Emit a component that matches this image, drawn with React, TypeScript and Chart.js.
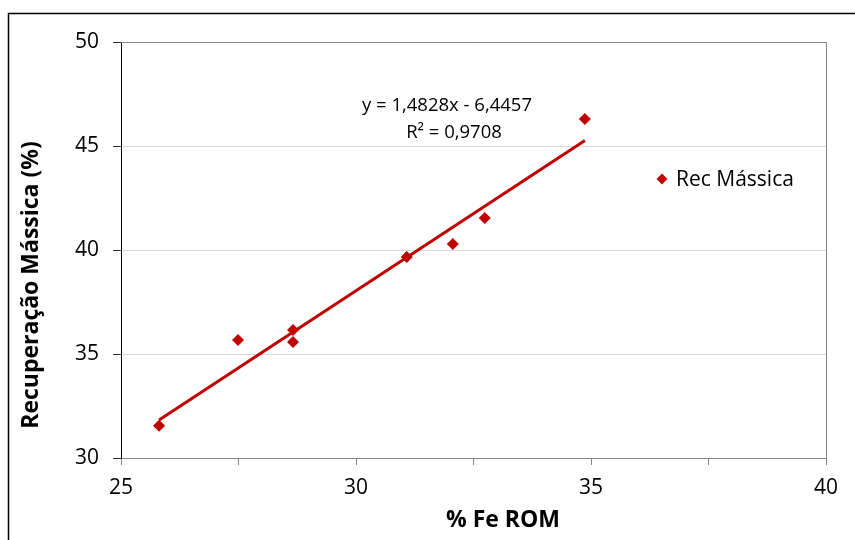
import React, { useEffect, useRef } from "react";
import { Chart, registerables } from "chart.js";

Chart.register(...registerables);

const feRom: number[] = [25.81, 27.49, 28.66, 28.66, 31.08, 32.06, 32.74, 34.87];
const recMassica: number[] = [31.55, 35.67, 36.15, 35.58, 39.66, 40.29, 41.54, 46.3];
const slope = 1.4828;
const intercept = -6.4457;
const seriesName = "Rec Mássica";
const equationText = "y = 1,4828x - 6,4457";
const r2Text = "R² = 0,9708";
const xTitle = "% Fe ROM";
const yTitle = "Recuperação Mássica (%)";
const xMin = 25, xMax = 40, xStep = 2.5;
const yMin = 30, yMax = 50, yStep = 5;

const RED = "#c00000";
const FONT = "'Open Sans', 'DejaVu Sans', sans-serif";

export default function App() {
  const ref = useRef<HTMLCanvasElement | null>(null);
  useEffect(() => {
    if (!ref.current) return;
    const pts = feRom.map((x, i) => ({ x, y: recMassica[i] }));
    const lo = Math.min(...feRom);
    const hi = Math.max(...feRom);
    const trend = [
      { x: lo, y: slope * lo + intercept },
      { x: hi, y: slope * hi + intercept },
    ];
    const deco = {
      id: "deco",
      afterDraw(chart: any) {
        const ctx = chart.ctx;
        const a = chart.chartArea;
        ctx.save();
        // plot area top/right border
        ctx.strokeStyle = "#868686";
        ctx.lineWidth = 1;
        ctx.beginPath();
        ctx.moveTo(a.left, Math.round(a.top) + 0.5);
        ctx.lineTo(Math.round(a.right) + 0.5, Math.round(a.top) + 0.5);
        ctx.lineTo(Math.round(a.right) + 0.5, a.bottom);
        ctx.stroke();
        // outer border
        ctx.strokeStyle = "#000";
        ctx.lineWidth = 1.5;
        ctx.beginPath();
        ctx.moveTo(8.5, 540);
        ctx.lineTo(8.5, 13.5);
        ctx.lineTo(855, 13.5);
        ctx.stroke();
        // equation
        ctx.fillStyle = "#000";
        ctx.font = `18.5px ${FONT}`;
        ctx.textAlign = "center";
        ctx.textBaseline = "middle";
        ctx.fillText(equationText, 447, 106);
        ctx.fillText(r2Text, 454, 133);
        // legend
        const lx = 662, ly = 179, r = 5.5;
        ctx.fillStyle = RED;
        ctx.beginPath();
        ctx.moveTo(lx, ly - r);
        ctx.lineTo(lx + r, ly);
        ctx.lineTo(lx, ly + r);
        ctx.lineTo(lx - r, ly);
        ctx.closePath();
        ctx.fill();
        ctx.fillStyle = "#000";
        ctx.font = `21px ${FONT}`;
        ctx.textAlign = "left";
        ctx.fillText(seriesName, 676, 180);
        // axis titles
        ctx.font = `bold 23px ${FONT}`;
        ctx.textAlign = "center";
        ctx.fillText(xTitle, 503, 520);
        ctx.save();
        ctx.translate(31, 285);
        ctx.rotate(-Math.PI / 2);
        ctx.fillText(yTitle, 0, 0);
        ctx.restore();
        ctx.restore();
      },
    };
    const chart = new Chart(ref.current, {
      type: "scatter",
      data: {
        datasets: [
          {
            label: seriesName,
            data: pts,
            pointStyle: "rectRot",
            pointRadius: 6,
            pointHoverRadius: 6,
            backgroundColor: RED,
            borderColor: RED,
            borderWidth: 0,
            order: 0,
          },
          {
            label: "trend",
            data: trend,
            showLine: true,
            pointRadius: 0,
            borderColor: RED,
            borderWidth: 3,
            order: 1,
          },
        ],
      },
      options: {
        animation: false,
        responsive: false,
        events: [],
        layout: { padding: { left: 0, top: 42, right: 29, bottom: 0 } },
        plugins: { legend: { display: false }, tooltip: { enabled: false } },
        scales: {
          x: {
            type: "linear",
            min: xMin,
            max: xMax,
            afterFit: (s: any) => { s.height = 82; },
            ticks: {
              stepSize: xStep,
              autoSkip: false,
              maxRotation: 0,
              padding: 10,
              color: "#000",
              font: { family: FONT, size: 21 },
              callback: (v: any) => (Number(v) % 5 === 0 ? String(v) : ""),
            },
            grid: { drawOnChartArea: false, tickLength: 7, color: "#868686" },
            border: { color: "#868686", width: 1 },
          },
          y: {
            min: yMin,
            max: yMax,
            afterFit: (s: any) => { s.width = 121; },
            ticks: {
              stepSize: yStep,
              padding: 14,
              color: "#000",
              font: { family: FONT, size: 21 },
            },
            grid: { color: "#d9d9d9", tickColor: "#333", tickLength: 8 },
            border: { color: "#000", width: 1 },
          },
        },
      },
      plugins: [deco],
    });
    return () => chart.destroy();
  }, []);
  return (
    <div style={{ position: "fixed", left: 0, top: 0, width: 855, height: 540, background: "#fff" }}>
      <canvas ref={ref} width={855} height={540} />
    </div>
  );
}
